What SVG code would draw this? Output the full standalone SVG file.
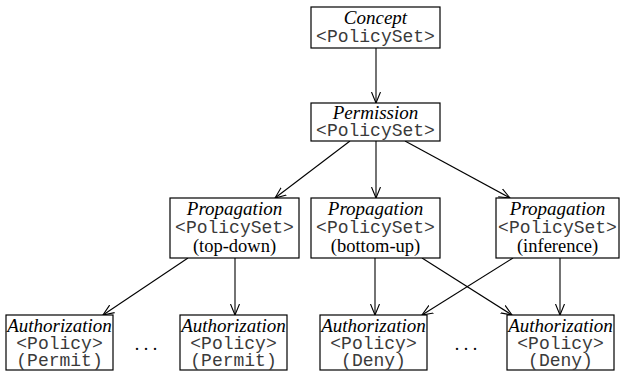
<svg xmlns="http://www.w3.org/2000/svg" width="621" height="377" viewBox="0 0 621 377">
<style>
rect{fill:#fff;stroke:#000;stroke-width:1.2}
.i{font-family:"Liberation Serif","Times New Roman",serif;font-style:italic;font-size:19px;text-anchor:middle}
.s{font-family:"Liberation Serif","Times New Roman",serif;font-size:18.5px;text-anchor:middle}
.m{font-family:"Liberation Mono","Courier New",monospace;font-size:18px;text-anchor:middle;fill:#3a3a3a}
.c line{stroke:#000;stroke-width:1.1;marker-end:url(#a)}
.d{font-family:"Liberation Serif",serif;font-size:18px;text-anchor:middle}
</style>
<defs>
<marker id="a" viewBox="0 0 12 12" refX="11" refY="6" markerWidth="12" markerHeight="12" markerUnits="userSpaceOnUse" orient="auto">
<path d="M0,1.5 L11,6 L0,10.5" fill="none" stroke="#000" stroke-width="1.1"/>
</marker>
</defs>
<g class="c" id="connectors">
<line x1="376" y1="48" x2="376" y2="103"/>
<line x1="350" y1="141" x2="275" y2="198"/>
<line x1="376" y1="141" x2="376" y2="198"/>
<line x1="405" y1="141" x2="510" y2="198"/>
<line x1="188" y1="258" x2="103" y2="315"/>
<line x1="235" y1="258" x2="235" y2="315"/>
<line x1="375" y1="258" x2="375" y2="315"/>
<line x1="422" y1="258" x2="512" y2="315"/>
<line x1="513" y1="258" x2="422" y2="315"/>
<line x1="560" y1="258" x2="560" y2="315"/>
</g>
<g id="concept">
<rect x="311" y="7" width="129" height="41"/>
<text class="i" x="375.5" y="24">Concept</text>
<text class="m" x="375.5" y="42">&lt;PolicySet&gt;</text>
</g>
<g id="permission">
<rect x="311" y="103" width="129" height="38"/>
<text class="i" x="375.5" y="119">Permission</text>
<text class="m" x="375.5" y="136">&lt;PolicySet&gt;</text>
</g>
<g id="prop-topdown">
<rect x="170" y="198" width="129" height="60"/>
<text class="i" x="234.5" y="215">Propagation</text>
<text class="m" x="234.5" y="233">&lt;PolicySet&gt;</text>
<text class="s" x="234.5" y="252">(top-down)</text>
</g>
<g id="prop-bottomup">
<rect x="311" y="198" width="129" height="60"/>
<text class="i" x="375.5" y="215">Propagation</text>
<text class="m" x="375.5" y="233">&lt;PolicySet&gt;</text>
<text class="s" x="375.5" y="252">(bottom-up)</text>
</g>
<g id="prop-inference">
<rect x="496" y="198" width="123" height="60"/>
<text class="i" x="557.5" y="215">Propagation</text>
<text class="m" x="557.5" y="233">&lt;PolicySet&gt;</text>
<text class="s" x="557.5" y="252">(inference)</text>
</g>
<g id="auth-permit-1">
<rect x="6" y="315" width="107" height="55"/>
<text class="i" x="59.5" y="332">Authorization</text>
<text class="m" x="59.5" y="349">&lt;Policy&gt;</text>
<text class="m" x="59.5" y="366">(Permit)</text>
</g>
<g id="auth-permit-2">
<rect x="180" y="315" width="107" height="55"/>
<text class="i" x="233.5" y="332">Authorization</text>
<text class="m" x="233.5" y="349">&lt;Policy&gt;</text>
<text class="m" x="233.5" y="366">(Permit)</text>
</g>
<g id="auth-deny-1">
<rect x="320" y="315" width="107" height="55"/>
<text class="i" x="373.5" y="332">Authorization</text>
<text class="m" x="373.5" y="349">&lt;Policy&gt;</text>
<text class="m" x="373.5" y="366">(Deny)</text>
</g>
<g id="auth-deny-2">
<rect x="507" y="315" width="107" height="55"/>
<text class="i" x="560.5" y="332">Authorization</text>
<text class="m" x="560.5" y="349">&lt;Policy&gt;</text>
<text class="m" x="560.5" y="366">(Deny)</text>
</g>
<text class="d" x="146" y="350">. . .</text>
<text class="d" x="466" y="350">. . .</text>
</svg>
